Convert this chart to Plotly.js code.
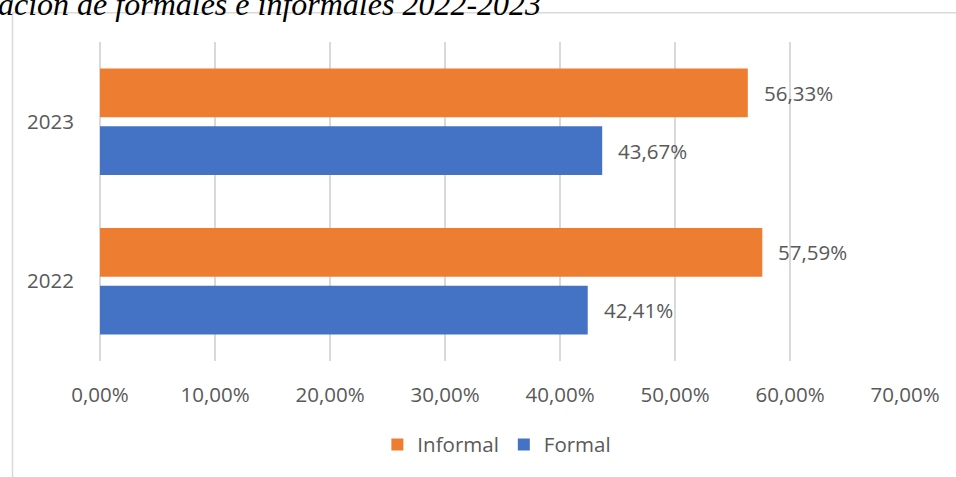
<!DOCTYPE html>
<html>
<head>
<meta charset="utf-8">
<script src="https://cdn.plot.ly/plotly-3.0.1.min.js"></script>
<style>html,body{margin:0;padding:0;background:#fff;}#chart{width:956px;height:477px;}</style>
</head>
<body>
<div id="chart"></div>
<script>
const years = ['2022', '2023'];
const formal = [42.41, 43.67];
const informal = [57.59, 56.33];
const xTickVals = [0, 10, 20, 30, 40, 50, 60, 70];
const xTickText = ['0,00%', '10,00%', '20,00%', '30,00%', '40,00%', '50,00%', '60,00%', '70,00%'];
const titleText = 'ación de formales e informales 2022-2023';

const fmt = v => v.toFixed(2).replace('.', ',') + '%';
const labelFont = {family: 'Open Sans, Noto Sans, sans-serif', size: 20.5, color: '#595959'};

const traces = [
  {type: 'bar', orientation: 'h', name: 'Formal', y: years, x: formal,
   marker: {color: '#4472C4'}},
  {type: 'bar', orientation: 'h', name: 'Informal', y: years, x: informal,
   marker: {color: '#ED7D31'}}
];

const annotations = [];
years.forEach((yr, i) => {
  annotations.push({x: informal[i], y: i, xref: 'x', yref: 'y', text: fmt(informal[i]),
    showarrow: false, xanchor: 'left', yanchor: 'middle', xshift: 14, yshift: 29, font: labelFont});
  annotations.push({x: formal[i], y: i, xref: 'x', yref: 'y', text: fmt(formal[i]),
    showarrow: false, xanchor: 'left', yanchor: 'middle', xshift: 14, yshift: -29, font: labelFont});
});
annotations.push({text: titleText, xref: 'paper', yref: 'paper', x: (543 - 100) / 805, y: 1 + (42 - 4) / 321,
  xanchor: 'right', yanchor: 'middle', showarrow: false,
  font: {family: 'Liberation Serif, Times New Roman, serif', size: 32, style: 'italic', color: '#000'}});

const frameColor = '#d9d9d9';
const layout = {
  width: 956, height: 477,
  margin: {l: 100, r: 51, t: 42, b: 114},
  paper_bgcolor: '#fff', plot_bgcolor: '#fff',
  barmode: 'group', bargap: 0.277, bargroupgap: 0.155,
  showlegend: true,
  legend: {orientation: 'h', traceorder: 'reversed', x: 0.493, xanchor: 'center', y: -0.262, yanchor: 'middle',
    font: labelFont},
  xaxis: {range: [0, 70], tickvals: xTickVals, ticktext: xTickText, showgrid: true,
    gridcolor: frameColor, gridwidth: 1.5, zeroline: true, zerolinecolor: frameColor, zerolinewidth: 1.5,
    showline: false, tickfont: labelFont, ticks: 'outside', ticklen: 15, tickcolor: 'rgba(0,0,0,0)'},
  yaxis: {type: 'category', categoryorder: 'array', categoryarray: years, showgrid: false,
    zeroline: false, showline: false, tickfont: labelFont, ticks: 'outside', ticklen: 21, tickcolor: 'rgba(0,0,0,0)'},
  annotations: annotations,
  shapes: [
    {type: 'line', xref: 'paper', yref: 'paper', x0: (12.5 - 100) / 805, x1: (12.5 - 100) / 805,
     y0: 1 + (42 - 12.5) / 321, y1: (363 - 480) / 321, line: {color: frameColor, width: 1.5}},
    {type: 'line', xref: 'paper', yref: 'paper', x0: (12.5 - 100) / 805, x1: (960 - 100) / 805,
     y0: 1 + (42 - 12.5) / 321, y1: 1 + (42 - 12.5) / 321, line: {color: frameColor, width: 1.5}}
  ]
};

Plotly.newPlot('chart', traces, layout, {displayModeBar: false, staticPlot: true});
</script>
</body>
</html>
